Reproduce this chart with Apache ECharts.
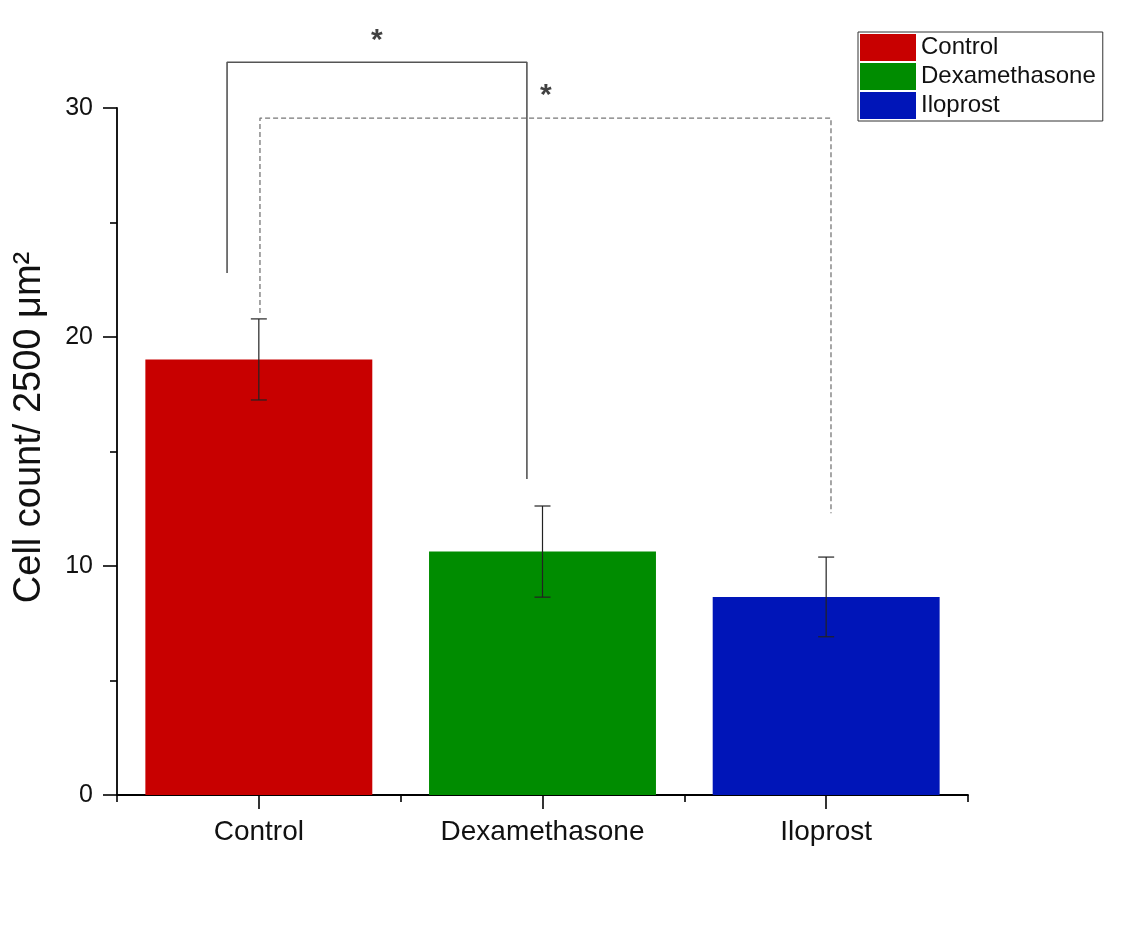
<!DOCTYPE html>
<html>
<head>
<meta charset="utf-8">
<script src="https://cdn.jsdelivr.net/npm/echarts@6/dist/echarts.min.js"></script>
<style>
  html, body { margin: 0; padding: 0; background: #ffffff; }
  #chart { width: 1130px; height: 947px; }
</style>
</head>
<body>
<div id="chart"></div>
<script>
// Group names and measured cell counts (mean ± error)
const categories = ['Control', 'Dexamethasone', 'Iloprost'];
const means = [19.02, 10.63, 8.65];
const errors = [1.77, 1.99, 1.74];
const barColors = ['#c80000', '#008c00', '#0015b8'];
const yTicks = [0, 10, 20, 30];

// Significance brackets on a 0–3 group scale (group i spans i..i+1)
const bracketSolidX = [0.388, 0.388, 1.445, 1.445];
const bracketSolidY = [22.8, 32.0, 32.0, 13.8];
const bracketDashedX = [0.504, 0.504, 2.517, 2.517];
const bracketDashedY = [21.05, 29.56, 29.56, 12.3];
const starX = [0.916, 1.512];
const starY = [33.2, 30.8];

const FONT = '"Liberation Sans", Arial, sans-serif';
const chart = echarts.init(document.getElementById('chart'), null, { renderer: 'canvas' });

// One bar series per group so each gets its own legend entry
const barSeries = categories.map((name, i) => ({
  name: name,
  type: 'bar',
  xAxisIndex: 0,
  yAxisIndex: 0,
  barWidth: '80%',
  barGap: '-100%',
  itemStyle: { color: barColors[i] },
  data: categories.map((c, j) => (j === i ? means[j] : '-')),
  z: 2
}));

const errorSeries = {
  type: 'custom',
  xAxisIndex: 0,
  yAxisIndex: 0,
  z: 5,
  silent: true,
  data: categories.map((c, i) => [i, means[i] - errors[i], means[i] + errors[i]]),
  renderItem: function (params, api) {
    const lo = api.coord([api.value(0), api.value(1)]);
    const hi = api.coord([api.value(0), api.value(2)]);
    const cap = 8;
    const style = { stroke: '#222', lineWidth: 1.2 };
    return {
      type: 'group',
      children: [
        { type: 'line', shape: { x1: hi[0], y1: hi[1], x2: lo[0], y2: lo[1] }, style: style },
        { type: 'line', shape: { x1: hi[0] - cap, y1: hi[1], x2: hi[0] + cap, y2: hi[1] }, style: style },
        { type: 'line', shape: { x1: lo[0] - cap, y1: lo[1], x2: lo[0] + cap, y2: lo[1] }, style: style }
      ]
    };
  }
};

const zip = (xs, ys) => xs.map((x, i) => [x, ys[i]]);

const option = {
  backgroundColor: '#ffffff',
  animation: false,
  textStyle: { fontFamily: FONT },
  grid: { left: 117, right: 162, top: 108, bottom: 152 },
  legend: {
    orient: 'vertical',
    left: 858,
    top: 32,
    padding: [2, 7, 2, 2],
    itemWidth: 56,
    itemHeight: 27,
    itemGap: 2,
    borderColor: '#333',
    borderWidth: 1,
    icon: 'rect',
    data: categories,
    textStyle: { fontFamily: FONT, fontSize: 24, color: '#111' }
  },
  xAxis: [
    {
      type: 'category',
      data: categories,
      position: 'bottom',
      axisLine: { show: true, lineStyle: { color: '#000', width: 1.8 } },
      axisTick: { show: true, alignWithLabel: true, length: 14, lineStyle: { color: '#000', width: 1.6 } },
      axisLabel: { fontFamily: FONT, fontSize: 28, color: '#111', margin: 23 },
      splitLine: { show: false }
    },
    {
      type: 'value',
      min: 0,
      max: 3,
      interval: 1,
      position: 'bottom',
      axisLine: { show: false },
      axisTick: { show: true, length: 7, lineStyle: { color: '#000', width: 1.6 } },
      axisLabel: { show: false },
      splitLine: { show: false }
    }
  ],
  yAxis: {
    type: 'value',
    min: yTicks[0],
    max: yTicks[yTicks.length - 1],
    interval: 10,
    name: 'Cell count/ 2500 μm²',
    nameLocation: 'middle',
    nameGap: 68,
    nameTextStyle: { fontFamily: FONT, fontSize: 38, color: '#111', padding: [0, 0, 0, 48] },
    axisLine: { show: true, lineStyle: { color: '#000', width: 1.8 } },
    axisTick: { show: true, length: 14, lineStyle: { color: '#000', width: 1.6 } },
    minorTick: { show: true, splitNumber: 2, length: 7, lineStyle: { color: '#000', width: 1.6 } },
    axisLabel: { fontFamily: FONT, fontSize: 25, color: '#111', margin: 24 },
    splitLine: { show: false },
    minorSplitLine: { show: false }
  },
  series: barSeries.concat([
    errorSeries,
    {
      type: 'line',
      xAxisIndex: 1,
      yAxisIndex: 0,
      clip: false,
      symbol: 'none',
      silent: true,
      z: 4,
      lineStyle: { color: '#555', width: 1.6 },
      data: zip(bracketSolidX, bracketSolidY)
    },
    {
      type: 'line',
      xAxisIndex: 1,
      yAxisIndex: 0,
      clip: false,
      symbol: 'none',
      silent: true,
      z: 4,
      lineStyle: { color: '#777', width: 1.3, type: [5, 3] },
      data: zip(bracketDashedX, bracketDashedY)
    },
    {
      type: 'scatter',
      xAxisIndex: 1,
      yAxisIndex: 0,
      clip: false,
      symbolSize: 0,
      silent: true,
      z: 6,
      label: {
        show: true,
        position: 'inside',
        formatter: '*',
        fontFamily: FONT,
        fontSize: 30,
        fontWeight: 'bold',
        color: '#111',
        offset: [0, 6]
      },
      data: zip(starX, starY)
    }
  ])
};

chart.setOption(option);
</script>
</body>
</html>
